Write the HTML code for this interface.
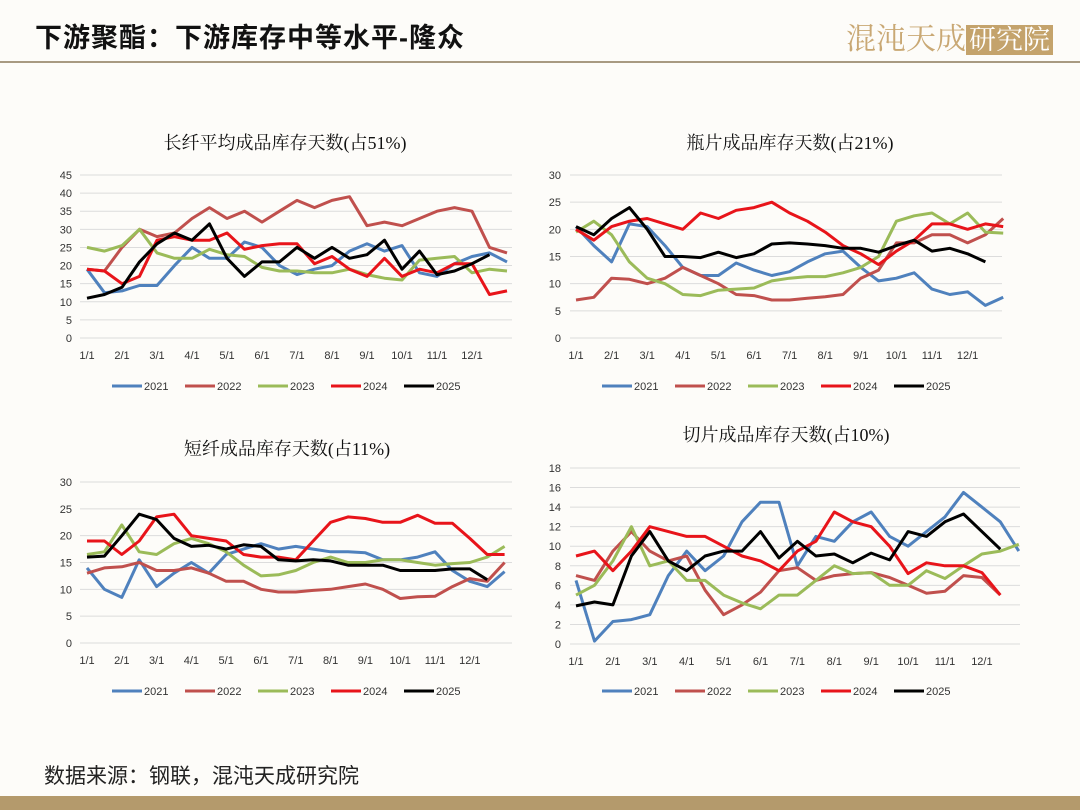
<!DOCTYPE html>
<html><head><meta charset="utf-8">
<style>
body{margin:0;background:#fff;}
#page{position:relative;width:1080px;height:810px;background:#fdfcf9;overflow:hidden;font-family:"Liberation Sans","Noto Sans CJK SC",sans-serif;}
#title{position:absolute;left:35px;top:16px;font-size:27px;font-weight:bold;color:#111;letter-spacing:1px;font-family:"Liberation Sans","Noto Sans CJK SC",sans-serif;}
#hline{position:absolute;left:0;top:61px;width:1080px;height:2px;background:#a89a82;}
#logo{position:absolute;left:846px;top:14px;height:36px;font-size:30px;color:#c9a874;font-family:"Liberation Serif","Noto Serif CJK SC",serif;}
#logo span.box{background:#c4a36c;color:#fff;padding:0 3px;font-size:27px;}
#source{position:absolute;left:44px;top:760px;font-size:21px;color:#222;}
#bbar{position:absolute;left:0;top:796px;width:1080px;height:14px;background:#b49a6c;}
svg{position:absolute;left:0;top:0;}
</style></head><body>
<div id="page">
<div id="title">下游聚酯：下游库存中等水平-隆众</div>
<div id="logo">混沌天成<span class="box">研究院</span></div>
<div id="hline"></div>
<svg id="chart" width="1080" height="810"></svg>
<div id="source">数据来源：钢联，混沌天成研究院</div>
<div id="bbar"></div>
</div>
<script>
const years = ["2021","2022","2023","2024","2025"];
const monthLabels = ["1/1","2/1","3/1","4/1","5/1","6/1","7/1","8/1","9/1","10/1","11/1","12/1"];
const colors = ["#4f81bd","#c0504d","#9bbb59","#e8141a","#000000"];
const titles = ["长纤平均成品库存天数(占51%)","瓶片成品库存天数(占21%)","短纤成品库存天数(占11%)","切片成品库存天数(占10%)"];

// half-month sampled values (index i -> month i/2)
const c1s2021=[19,12.5,13,14.5,14.5,20,25,22,22,26.5,25,20,17.5,19,20,24,26,24,25.5,18,17,20.5,22.5,23.5,21];
const c1s2022=[19,18.5,25,30,28,29,33,36,33,35,32,35,38,36,38,39,31,32,31,33,35,36,35,25,23.5];
const c1s2023=[25,24,25.5,30,23.5,22,22,24.5,23,22.5,19.5,18.5,18.5,18,18,19,17.5,16.5,16,21.5,22,22.5,18,19,18.5];
const c1s2024=[19,18.5,15,17,27,28,27,27,29,24.5,25.5,26,26,20.5,22.5,19,17,22,17,19,18,20.5,20.5,12,13];
const c1s2025=[11,12,14,21,26,29,27,31.5,22,17,21,21,25,22,25,22,23,27,19,24,17.5,18.5,20.5,23,null];

const c2s2021=[20.5,17,14,21,20.5,17,13,11.5,11.5,13.8,12.5,11.5,12.2,14,15.5,16,13,10.5,11,12,9,8,8.5,6,7.5];
const c2s2022=[7,7.5,11,10.8,10,11,13,11.5,10,8,7.8,7,7,7.3,7.6,8,11,12.5,17.5,17.5,19,19,17.5,19,22];
const c2s2023=[19.5,21.5,19,14,11,10,8,7.8,8.8,9,9.2,10.5,11,11.3,11.3,12,13,15,21.5,22.5,23,21,23,19.5,19.3];
const c2s2024=[20,18,20.5,21.5,22,21,20,23,22,23.5,24,25,23,21.5,19.5,17,15.5,13.5,16,18,21,21,20,21,20.5];
const c2s2025=[20.5,19,22,24,20,15,15,14.8,15.8,14.8,15.5,17.3,17.5,17.3,17,16.5,16.5,15.8,17,18,16,16.5,15.5,14,null];

const c3s2021=[14,10,8.5,15.5,10.5,13,15,13,16.5,17.5,18.5,17.5,18,17.5,17,17,16.8,15.5,15.5,16,17,13.5,11.5,10.5,13.3];
const c3s2022=[13,14,14.2,15,13.5,13.5,14,13,11.5,11.5,10,9.5,9.5,9.8,10,10.5,11,10,8.3,8.6,8.7,10.5,12,11.5,15];
const c3s2023=[16.5,17,22,17,16.5,18.5,19.5,18.5,17,14.5,12.5,12.7,13.5,15,16,15,15,15.5,15.5,15,14.5,14.8,15,16,18];
const c3s2024=[19,19,16.5,19,23.5,24,20,19.5,19,16.5,16,16,15.5,19,22.5,23.5,23.2,22.5,22.5,23.8,22.3,22.3,19.5,16.5,16.5];
const c3s2025=[16,16.2,20,24,23,19.5,18,18.2,17.5,18.3,18,15.5,15.3,15.5,15.3,14.5,14.5,14.5,13.5,13.5,13.5,13.8,13.8,11.8,null];

const c4s2021=[6.5,0.3,2.3,2.5,3,7,9.5,7.5,9,12.5,14.5,14.5,8,11,10.5,12.5,13.5,11,10,11.5,13,15.5,14,12.5,9.5];
const c4s2022=[7,6.5,9.5,11.5,9.5,8.5,9,5.5,3,4,5.3,7.5,7.8,6.5,7,7.2,7.3,6.8,6,5.2,5.4,7,6.8,5,null];
const c4s2023=[5,6,8.5,12,8,8.5,6.5,6.5,5,4.2,3.6,5,5,6.5,8,7.2,7.3,6,6,7.5,6.7,8,9.2,9.5,10.2];
const c4s2024=[9,9.5,7.5,9.5,12,11.5,11,11,10,9,8.5,7.5,9.5,10.5,13.5,12.5,12,10,7.2,8.3,8,8,7.3,5,null];
const c4s2025=[3.9,4.3,4,9,11.5,8.5,7.5,9,9.5,9.5,11.5,8.8,10.5,9,9.2,8.3,9.3,8.6,11.5,11,12.5,13.3,11.5,9.7,null];

const NS="http://www.w3.org/2000/svg";
const svg=document.getElementById('chart');
function el(tag,attrs,parent){const e=document.createElementNS(NS,tag);for(const k in attrs)e.setAttribute(k,attrs[k]);(parent||svg).appendChild(e);return e;}

const panels=[
 {x0:87,pm:35,gx1:80,gx2:512,yTop:175,yBot:338,max:45,step:5,tx:285,ty:142,ly:386,lx:112,series:[c1s2021,c1s2022,c1s2023,c1s2024,c1s2025]},
 {x0:576,pm:35.6,gx1:570,gx2:1002,yTop:175,yBot:338,max:30,step:5,tx:790,ty:142,ly:386,lx:602,series:[c2s2021,c2s2022,c2s2023,c2s2024,c2s2025]},
 {x0:87,pm:34.8,gx1:80,gx2:512,yTop:482,yBot:643,max:30,step:5,tx:287,ty:448,ly:691,lx:112,series:[c3s2021,c3s2022,c3s2023,c3s2024,c3s2025]},
 {x0:576,pm:36.9,gx1:570,gx2:1020,yTop:468,yBot:644,max:18,step:2,tx:786,ty:434,ly:691,lx:602,series:[c4s2021,c4s2022,c4s2023,c4s2024,c4s2025]}
];

panels.forEach((p,pi)=>{
  const g=el('g',{});
  
  
  const yS=v=>p.yBot-(v/p.max)*(p.yBot-p.yTop);
  const xS=i=>p.x0+(i/2)*p.pm;
  const t=el('text',{x:p.tx,y:p.ty+7,'text-anchor':'middle','font-size':18,fill:'#111','font-family':'"Liberation Serif","Noto Serif CJK SC",serif'},g);
  t.textContent=titles[pi];
  
  
  for(let v=0;v<=p.max;v+=p.step){
    const y=yS(v);
    const gl=el('line',{x1:p.gx1,x2:p.gx2,y1:y,y2:y,stroke:'#dcdcdc','stroke-width':1},g);
    
    
    const lt=el('text',{x:p.x0-15,y:y+4,'text-anchor':'end','font-size':11,fill:'#333'},g);
    lt.textContent=v;
    
    
  }
  monthLabels.forEach((m,k)=>{
    const xt=el('text',{x:p.x0+k*p.pm,y:p.yBot+21,'text-anchor':'middle','font-size':11,fill:'#333'},g);
    xt.textContent=m;
    
    
  });
  p.series.forEach((s,si)=>{
    let d='';let pen=false;
    s.forEach((v,i)=>{ if(v===null){pen=false;return;} d+=(pen?'L':'M')+xS(i).toFixed(1)+','+yS(v).toFixed(1); pen=true;});
    const path=el('path',{d:d,fill:'none',stroke:colors[si],'stroke-width':3,'stroke-linejoin':'round'},g);
    
    
  });
  years.forEach((yr,si)=>{
    const lx=p.lx+si*73;
    const ll=el('line',{x1:lx,x2:lx+30,y1:p.ly,y2:p.ly,stroke:colors[si],'stroke-width':3},g);
    
    
    const lt=el('text',{x:lx+32,y:p.ly+4,'font-size':11,fill:'#333'},g);
    lt.textContent=yr;
    
    
  });
});
</script>
</body></html>
